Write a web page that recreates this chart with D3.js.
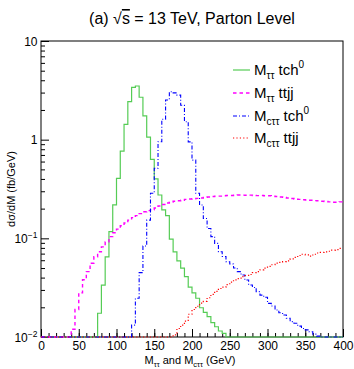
<!DOCTYPE html>
<html>
<head>
<meta charset="utf-8">
<script src="https://cdn.jsdelivr.net/npm/d3@7"></script>
<style>
  body { margin: 0; background: #fff; }
  text { font-family: "Liberation Sans", Arial, sans-serif; fill: #000; }
</style>
</head>
<body>
<div id="chart"></div>
<script>
// ======== Data (5 GeV bins, values in fb/GeV) ========
var binWidth = 5;

var tchMttStart = 75;   // M_tautau, tch0
var tchMtt = [0.0174, 0.0336, 0.065, 0.117, 0.218, 0.406, 0.767, 1.43, 2.43, 3.39,
  3.5, 2.69, 1.74, 1.06, 0.63, 0.40, 0.275, 0.194, 0.17, 0.098,
  0.073, 0.059, 0.05, 0.041, 0.032, 0.028, 0.0247, 0.0198, 0.0178, 0.0161,
  0.014, 0.0127, 0.0115, 0.0109];

var ttjjMttStart = 40;  // M_tautau, ttjj
var ttjjMtt = [0.012, 0.019, 0.028, 0.038, 0.046, 0.056, 0.065, 0.073, 0.082, 0.092,
  0.104, 0.114, 0.124, 0.134, 0.143, 0.153, 0.162, 0.170, 0.178, 0.186,
  0.191, 0.195, 0.203, 0.213, 0.220, 0.228, 0.233, 0.238, 0.240, 0.243,
  0.248, 0.250, 0.252, 0.254, 0.256, 0.260, 0.262, 0.265, 0.268, 0.268,
  0.270, 0.272, 0.272, 0.274, 0.275, 0.274, 0.273, 0.274, 0.272, 0.271,
  0.272, 0.270, 0.270, 0.268, 0.265, 0.262, 0.260, 0.256, 0.253, 0.250,
  0.248, 0.246, 0.245, 0.243, 0.241, 0.240, 0.238, 0.236, 0.234, 0.232,
  0.232, 0.234];

var tchMcttStart = 120; // M_ctautau, tch0
var tchMctt = [0.0132, 0.0247, 0.0449, 0.0836, 0.153, 0.286, 0.513, 0.953, 1.61, 2.52,
  3.06, 2.98, 2.83, 2.23, 1.52, 0.95, 0.62, 0.286, 0.218, 0.159,
  0.126, 0.104, 0.089, 0.073, 0.0655, 0.058, 0.055, 0.05, 0.046, 0.0425,
  0.0378, 0.0336, 0.0318, 0.0288, 0.0266, 0.0253, 0.0219, 0.0206, 0.0188, 0.0176,
  0.0167, 0.0155, 0.0143, 0.0138, 0.0129, 0.0122, 0.0118, 0.0113, 0.0107, 0.0102,
  0.0097, 0.0093, 0.009, 0.0088, 0.0085, 0.0082];

var ttjjMcttStart = 175; // M_ctautau, ttjj
var ttjjMctt = [0.0105, 0.0122, 0.0132, 0.0145, 0.017, 0.019, 0.0205, 0.022, 0.023, 0.025,
  0.027, 0.029, 0.031, 0.032, 0.034, 0.036, 0.038, 0.039, 0.041, 0.042,
  0.043, 0.045, 0.046, 0.048, 0.050, 0.052, 0.054, 0.056, 0.057, 0.058,
  0.059, 0.062, 0.064, 0.067, 0.069, 0.068, 0.066, 0.069, 0.071, 0.072,
  0.073, 0.074, 0.076, 0.077, 0.079];

var xTicks = [0, 50, 100, 150, 200, 250, 300, 350, 400];
var yDecades = [0.01, 0.1, 1, 10];
var yTickLabels = [["10", "\u22122"], ["10", "\u22121"], ["1", ""], ["10", ""]];
var legendLabels = [["\u03c4\u03c4", "tch", "0"], ["\u03c4\u03c4", "ttjj", ""],
  ["c\u03c4\u03c4", "tch", "0"], ["c\u03c4\u03c4", "ttjj", ""]];

// ======== Layout ========
var W = 354, H = 369;
var padL = 41, padR = 343, padT = 41, padB = 337;

var svg = d3.select("#chart").append("svg")
  .attr("width", W).attr("height", H);

var x = d3.scaleLinear().domain([0, 400]).range([padL, padR]);
var y = d3.scaleLog().domain([0.01, 10]).range([padB, padT]).clamp(true);

// title
var title = svg.append("text")
  .attr("x", 192).attr("y", 24)
  .attr("text-anchor", "middle")
  .style("font-size", "16px");
title.append("tspan").text("(a) \u221a");
title.append("tspan").style("text-decoration", "overline").text("s");
title.append("tspan").text(" = 13 TeV, Parton Level");

// frame
svg.append("rect")
  .attr("x", padL).attr("y", padT)
  .attr("width", padR - padL).attr("height", padB - padT)
  .attr("fill", "none").attr("stroke", "#000").attr("stroke-width", 1);

// ======== Axes (ticks inside, ROOT style) ========
var xMajor = d3.axisBottom(x).tickValues(xTicks).tickSize(-8).tickPadding(4)
  .tickFormat(d3.format("d"));
var xMinor = d3.axisBottom(x).tickValues(d3.range(0, 401, 10)).tickSize(-4).tickFormat("");

var gx = svg.append("g").attr("transform", "translate(0," + padB + ")");
gx.call(xMinor);
gx.append("g").call(xMajor);
gx.selectAll(".domain").remove();
gx.selectAll("text").style("font-size", "12px").attr("fill", "#000")
  .style("font-family", "'Liberation Sans', Arial, sans-serif");

var minorY = [];
yDecades.slice(0, 3).forEach(function (d) {
  for (var k = 2; k <= 9; k++) minorY.push(d * k);
});
var gy = svg.append("g").attr("transform", "translate(" + padL + ",0)");
gy.call(d3.axisLeft(y).tickValues(minorY).tickSize(-4).tickFormat(""));
gy.append("g").call(d3.axisLeft(y).tickValues(yDecades).tickSize(-8).tickFormat(""));
gy.selectAll(".domain").remove();

yDecades.forEach(function (d, i) {
  var t = svg.append("text")
    .attr("x", 37.5).attr("y", y(d) + 4.5)
    .attr("text-anchor", "end")
    .style("font-size", "12px");
  t.append("tspan").text(yTickLabels[i][0]);
  if (yTickLabels[i][1])
    t.append("tspan").attr("dy", -5).style("font-size", "8.5px").text(yTickLabels[i][1]);
});

// axis titles
svg.append("text")
  .attr("transform", "translate(15,189) rotate(-90)")
  .attr("text-anchor", "middle")
  .style("font-size", "11px")
  .text("d\u03c3/dM (fb/GeV)");

var xt = svg.append("text")
  .attr("x", 190).attr("y", 364)
  .attr("text-anchor", "middle")
  .style("font-size", "11px");
xt.append("tspan").text("M");
xt.append("tspan").attr("dy", 2.5).style("font-size", "7.5px").text("\u03c4\u03c4");
xt.append("tspan").attr("dy", -2.5).text(" and M");
xt.append("tspan").attr("dy", 2.5).style("font-size", "7.5px").text("c\u03c4\u03c4");
xt.append("tspan").attr("dy", -2.5).text(" (GeV)");

// ======== Histograms ========
function stepPoints(start, vals) {
  var out = [[0, 0], [start, 0]];
  vals.forEach(function (v, i) {
    var lo = start + i * binWidth;
    out.push([lo, v], [lo + binWidth, v]);
  });
  var end = start + vals.length * binWidth;
  if (end < 400) out.push([end, 0], [400, 0]);
  return out;
}

var line = d3.line()
  .x(function (d) { return x(d[0]); })
  .y(function (d) { return d[1] <= 0 ? padB : y(d[1]); });

var series = [
  { start: tchMttStart, vals: tchMtt, color: "#55cc55", dash: null, w: 1.2 },
  { start: ttjjMttStart, vals: ttjjMtt, color: "#ff00ff", dash: "3.5,3", w: 1.4 },
  { start: tchMcttStart, vals: tchMctt, color: "#0000ff", dash: "4,2,1,2", w: 1.1 },
  { start: ttjjMcttStart, vals: ttjjMctt, color: "#ff0000", dash: "1.2,2.2", w: 1.2 }
];

svg.append("clipPath").attr("id", "plotclip").append("rect")
  .attr("x", padL).attr("y", padT).attr("width", padR - padL).attr("height", padB - padT + 1);

var plot = svg.append("g").attr("clip-path", "url(#plotclip)");
series.forEach(function (s) {
  plot.append("path")
    .attr("d", line(stepPoints(s.start, s.vals)))
    .attr("fill", "none")
    .attr("stroke", s.color)
    .attr("stroke-width", s.w)
    .attr("stroke-dasharray", s.dash);
});

// ======== Legend ========
var legY = [70, 93, 116, 138];
series.forEach(function (s, i) {
  svg.append("line")
    .attr("x1", 233).attr("x2", 250)
    .attr("y1", legY[i]).attr("y2", legY[i])
    .attr("stroke", s.color).attr("stroke-width", s.w)
    .attr("stroke-dasharray", s.dash);
  var t = svg.append("text")
    .attr("x", 254).attr("y", legY[i] + 5)
    .style("font-size", "15px");
  t.append("tspan").text("M");
  t.append("tspan").attr("dy", 4).style("font-size", "10px").text(legendLabels[i][0]);
  t.append("tspan").attr("dy", -4).text(" " + legendLabels[i][1]);
  if (legendLabels[i][2])
    t.append("tspan").attr("dy", -7).style("font-size", "10px").text(legendLabels[i][2]);
});
</script>
</body>
</html>
